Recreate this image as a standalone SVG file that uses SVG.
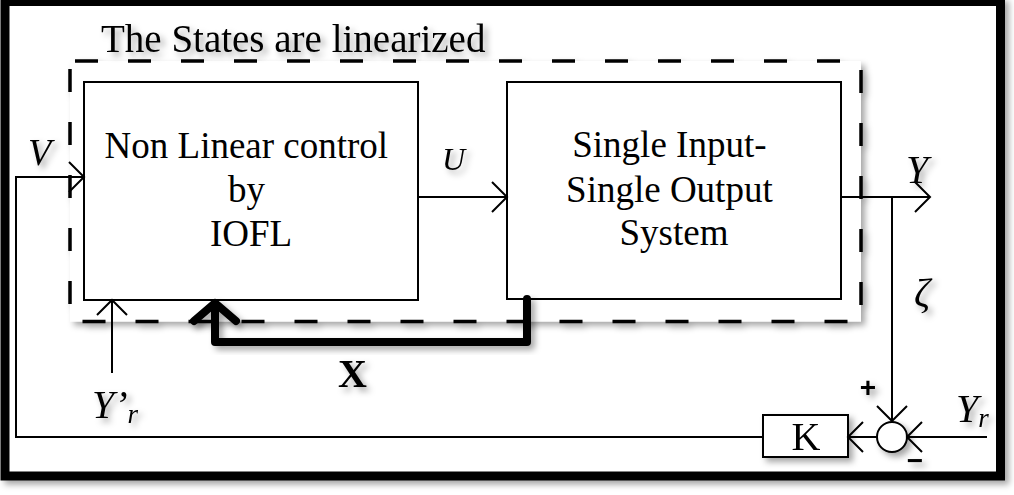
<svg xmlns="http://www.w3.org/2000/svg" width="1014" height="495" viewBox="0 0 1014 495">
  <defs>
    <filter id="sh" x="-10%" y="-10%" width="130%" height="140%">
      <feDropShadow dx="4" dy="4" stdDeviation="3" flood-color="#000" flood-opacity="0.35"/>
    </filter>
    <marker id="arr" viewBox="-17 -17 19 34" refX="0" refY="0" markerWidth="19" markerHeight="34" markerUnits="userSpaceOnUse" orient="auto">
      <path d="M-15,-15 L0,0 L-15,15" fill="none" stroke="#000" stroke-width="2"/>
    </marker>
    <style>
      .serif { font-family: "Liberation Serif", "Times New Roman", serif; fill: #000; }
      .sign { font-family: "Liberation Sans", Arial, sans-serif; font-weight: bold; fill: #000; }
      .it { font-style: italic; }
      .box { fill: #fff; stroke: #000; stroke-width: 2; }
      .wire { fill: none; stroke: #000; stroke-width: 2; }
      .thick { fill: none; stroke: #000; stroke-width: 8; stroke-linejoin: round; stroke-linecap: round; }
    </style>
  </defs>
  <rect x="0" y="0" width="1014" height="495" fill="#fff"/>

  <g id="frame">
    <rect x="5" y="1.5" width="995.5" height="474.5" fill="#fff" stroke="#000" stroke-width="9" filter="url(#sh)"/>
  </g>

  <g id="linearized-region">
    <rect x="70" y="61" width="791" height="260.5" fill="#fff" stroke="#000" stroke-width="3.5" stroke-dasharray="23 30" stroke-dashoffset="48" filter="url(#sh)"/>
    <text class="serif" x="101" y="52" font-size="39" filter="url(#sh)">The States are linearized</text>
  </g>

  <g id="nonlinear-control">
    <rect class="box" x="84" y="82" width="334" height="218"/>
    <text class="serif" font-size="37" text-anchor="middle">
      <tspan x="251" y="158">Non Linear control</tspan>
      <tspan x="251" y="202">by</tspan>
      <tspan x="251" y="246">IOFL</tspan>
    </text>
  </g>

  <g id="siso-system">
    <rect class="box" x="507" y="82" width="334" height="217"/>
    <text class="serif" font-size="37" text-anchor="middle">
      <tspan x="674" y="157">Single Input-</tspan>
      <tspan x="674" y="202">Single Output</tspan>
      <tspan x="674" y="245">System</tspan>
    </text>
  </g>

  <g id="gain-k" filter="url(#sh)">
    <rect class="box" x="763" y="415" width="85" height="42"/>
    <text class="serif" x="806" y="450" font-size="40" text-anchor="middle">K</text>
  </g>

  <g id="sum-junction" filter="url(#sh)">
    <circle cx="892" cy="437" r="15" fill="#fff" stroke="#000" stroke-width="2"/>
    <text class="sign" x="868" y="397" font-size="28" text-anchor="middle">+</text>
    <text class="sign" x="915" y="470" font-size="28" text-anchor="middle">−</text>
  </g>

  <g id="connectors">
    <line class="wire" x1="418" y1="197" x2="507" y2="197" marker-end="url(#arr)"/>
    <line class="wire" x1="841" y1="197" x2="930" y2="197" marker-end="url(#arr)"/>
    <line class="wire" x1="892" y1="197" x2="892" y2="421" marker-end="url(#arr)"/>
    <line class="wire" x1="987" y1="437" x2="907" y2="437" marker-end="url(#arr)"/>
    <line class="wire" x1="877" y1="437" x2="848" y2="437" marker-end="url(#arr)"/>
    <polyline class="wire" points="763,437 16,437 16,177 84,177" marker-end="url(#arr)"/>
    <line class="wire" x1="112" y1="373" x2="112" y2="300" marker-end="url(#arr)"/>
    <g filter="url(#sh)">
      <polyline class="thick" points="527,299 527,342 215,342 215,304"/>
      <polyline class="thick" points="194,321 215,303 236,321"/>
    </g>
  </g>

  <g id="labels" filter="url(#sh)">
    <text class="serif it" x="28" y="165" font-size="38">V</text>
    <text class="serif it" x="442" y="170" font-size="32">U</text>
    <text class="serif it" x="906" y="183" font-size="40">Y</text>
    <text class="serif it" x="914" y="306" font-size="40">ζ</text>
    <text class="serif" x="338" y="387" font-size="40" font-weight="bold">X</text>
    <text class="serif it" x="92" y="418" font-size="40">Y’<tspan font-size="27" dy="5">r</tspan></text>
    <text class="serif it" x="956" y="422" font-size="40">Y<tspan font-size="27" dy="5">r</tspan></text>
  </g>
</svg>
